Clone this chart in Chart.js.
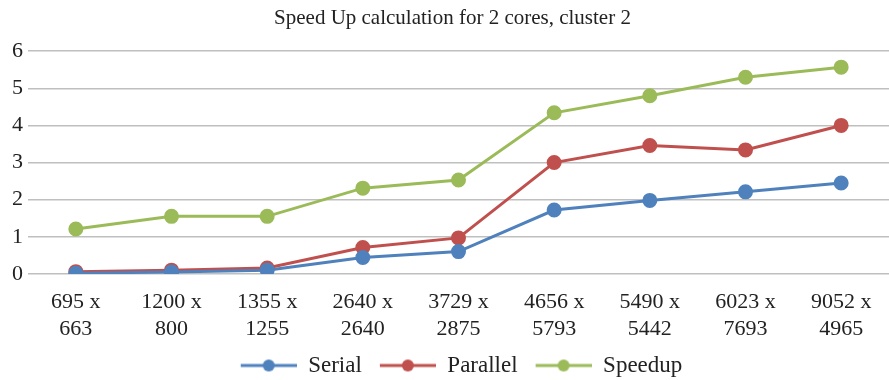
<!DOCTYPE html>
<html>
<head>
<meta charset="utf-8">
<script src="https://cdn.jsdelivr.net/npm/chart.js@4/dist/chart.umd.min.js"></script>
<style>
  html, body { margin: 0; padding: 0; background: #fff; overflow: hidden; }
  #wrap { width: 898px; height: 380px; position: relative; }
</style>
</head>
<body>
<div id="wrap"><canvas id="chart"></canvas></div>
<script>
// data
const categories = [
    ['695 x', '663'], ['1200 x', '800'], ['1355 x', '1255'], ['2640 x', '2640'], ['3729 x', '2875'],
    ['4656 x', '5793'], ['5490 x', '5442'], ['6023 x', '7693'], ['9052 x', '4965']
];
const serial   = [0.02, 0.05, 0.10, 0.44, 0.60, 1.72, 1.98, 2.21, 2.45];
const parallel = [0.06, 0.10, 0.16, 0.71, 0.97, 3.00, 3.46, 3.34, 4.00];
const speedup  = [1.21, 1.55, 1.55, 2.31, 2.53, 4.34, 4.80, 5.30, 5.57];
const yTicks = [0, 1, 2, 3, 4, 5, 6];

const FONT = "'Liberation Serif', 'Times New Roman', serif";
const COLORS = { serial: '#4f81bd', parallel: '#c0504d', speedup: '#9bbb59' };

// legend marker: gap, then a short line with a dot in the middle
const MARK_GAP = 18, MARK_LEN = 56;
function legendMarker(color) {
    const c = document.createElement('canvas');
    c.width = MARK_GAP + MARK_LEN; c.height = 14;
    const g = c.getContext('2d');
    g.strokeStyle = color;
    g.lineWidth = 3;
    g.beginPath();
    g.moveTo(MARK_GAP, 7); g.lineTo(MARK_GAP + MARK_LEN, 7);
    g.stroke();
    g.fillStyle = color;
    g.beginPath();
    g.arc(MARK_GAP + MARK_LEN / 2, 7, 6, 0, Math.PI * 2);
    g.fill();
    return c;
}

function series(label, data, color) {
    return {
        label: label,
        data: data,
        borderColor: color,
        backgroundColor: color,
        pointBackgroundColor: color,
        pointBorderColor: color,
        borderWidth: 3,
        pointRadius: 6,
        pointHoverRadius: 6,
        tension: 0,
        fill: false
    };
}

new Chart(document.getElementById('chart'), {
    type: 'line',
    data: {
        labels: categories,
        datasets: [
            series('Serial', serial, COLORS.serial),
            series('Parallel', parallel, COLORS.parallel),
            series('Speedup', speedup, COLORS.speedup)
        ]
    },
    options: {
        responsive: true,
        maintainAspectRatio: false,
        animation: false,
        layout: { padding: { left: 7, right: 0, top: 0, bottom: -7 } },
        plugins: {
            title: {
                display: true,
                text: 'Speed Up calculation for 2 cores, cluster 2',
                color: '#222',
                font: { family: FONT, size: 21, weight: 'normal' },
                padding: { top: 6, bottom: 20 }
            },
            legend: {
                position: 'bottom',
                labels: {
                    usePointStyle: true,
                    pointStyleWidth: MARK_GAP + MARK_LEN,
                    color: '#222',
                    font: { family: FONT, size: 23 },
                    padding: 0,
                    generateLabels: (chart) => chart.data.datasets.map((ds, i) => ({
                        text: ds.label,
                        pointStyle: legendMarker(ds.borderColor),
                        fillStyle: ds.borderColor,
                        strokeStyle: ds.borderColor,
                        fontColor: '#222',
                        lineWidth: 0,
                        hidden: false,
                        datasetIndex: i
                    }))
                }
            },
            tooltip: { enabled: false }
        },
        scales: {
            x: {
                offset: true,
                afterFit: (scale) => { scale.paddingLeft = 0; scale.paddingRight = 0; scale.height += 4; },
                grid: { display: false },
                border: { color: '#bfbfbf', width: 1 },
                ticks: {
                    color: '#222',
                    font: { family: FONT, size: 22, lineHeight: 1.23 },
                    maxRotation: 0,
                    autoSkip: false,
                    padding: 7
                }
            },
            y: {
                min: 0,
                max: 6,
                afterBuildTicks: (axis) => { axis.ticks = yTicks.map(v => ({ value: v })); },
                grid: { color: '#bfbfbf', lineWidth: 1.5, drawTicks: false },
                border: { display: false },
                ticks: {
                    color: '#222',
                    font: { family: FONT, size: 22 },
                    padding: 5
                }
            }
        }
    }
});
</script>
</body>
</html>
